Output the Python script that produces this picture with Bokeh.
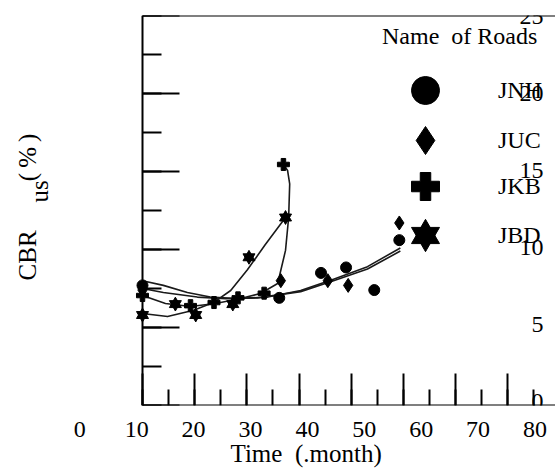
import numpy as np
from bokeh.plotting import figure
from bokeh.models import (LinearAxis, Range1d, FixedTicker, SingleIntervalTicker,
                          Legend, LegendItem)
from bokeh.core.properties import value
from bokeh.embed import file_html
from bokeh.resources import INLINE

# ---- data ----
jnh_x = [10, 36.2, 44.2, 49.0, 54.4, 59.2]
jnh_y = [7.7, 6.9, 8.5, 8.85, 7.4, 10.6]
juc_x = [10, 36.5, 45.5, 49.4, 59.2]
juc_y = [7.4, 8.0, 8.0, 7.7, 11.7]
jkb_x = [10, 19.2, 23.7, 28.3, 33.3, 37.0]
jkb_y = [7.05, 6.4, 6.6, 6.9, 7.2, 15.45]
jbd_x = [10, 16.3, 20.2, 27.3, 30.4, 37.4]
jbd_y = [5.8, 6.5, 5.8, 6.5, 9.5, 12.05]

# trend curves
jnh_cx = [10, 14, 18.6, 23, 28, 34, 40.3, 46.6, 53.1, 59.4]
jnh_cy = [8.0, 7.7, 7.24, 6.95, 6.85, 6.95, 7.37, 8.1, 8.9, 10.1]
juc_cx = [10, 14, 20.5, 26, 32, 40.3, 46.6, 53.1, 59.4]
juc_cy = [7.5, 7.24, 6.95, 6.85, 6.9, 7.3, 8.0, 8.75, 9.9]
jkb_cx = [10, 14.4, 19.2, 24.0, 28.8, 32.6, 35.9, 37.4, 38.0, 38.2, 37.8, 37.0]
jkb_cy = [7.05, 6.54, 6.35, 6.54, 6.86, 7.18, 7.82, 9.94, 12.05, 14.2, 15.06, 15.45]
jbd_cx = [10, 14.8, 19.8, 23.6, 26.9, 30.1, 33.5, 37.4]
jbd_cy = [5.9, 5.7, 6.1, 6.6, 7.37, 8.7, 10.3, 12.05]

x_tick_labels = [0, 10, 20, 30, 40, 50, 60, 70, 80]
y_tick_labels = [0, 5, 10, 15, 20, 25]

# y-axis title pieces (text) and where they sit
ytitle_text = ["CBR", "(\u2009%\u2009)", "us"]
ytitle_x = [-12.0, -12.0, -9.7]
ytitle_y = [9.62, 15.9, 13.72]

FONT = "Liberation Serif"
FS = "24px"
INK = "black"

X0, X1 = -17.2, 89.12

p = figure(width=555, height=474, output_backend="svg", toolbar_location=None,
           x_range=Range1d(X0, X1), y_range=Range1d(0, 25),
           x_axis_location=None, y_axis_location=None,
           min_border_left=0, min_border_right=0, min_border_top=15,
           min_border_bottom=69, outline_line_color=None)
p.xgrid.visible = False
p.ygrid.visible = False
p.extra_x_ranges = {"lab": Range1d(-13.94, 83.6)}
p.extra_y_ranges = {"ylab": Range1d(-0.26, 25.05)}


def style(ax, line=True):
    ax.axis_line_color = "black" if line else None
    ax.axis_line_width = 2
    ax.major_tick_line_width = 2
    ax.minor_tick_line_width = 2
    ax.major_label_text_font = FONT
    ax.major_label_text_font_size = FS
    ax.major_label_text_color = INK
    ax.axis_label_text_font = FONT
    ax.axis_label_text_font_size = FS
    ax.axis_label_text_font_style = "normal"
    ax.axis_label_text_color = INK
    ax.major_tick_out = 0
    ax.minor_tick_out = 0
    if not line:
        ax.major_tick_line_color = None
        ax.minor_tick_line_color = None


# left axis at x = 10 with inward ticks
ly = LinearAxis(fixed_location=10, ticker=SingleIntervalTicker(interval=5, num_minor_ticks=2))
style(ly)
ly.major_tick_in = 37
ly.minor_tick_in = 19
ly.major_label_text_color = None
p.add_layout(ly, "left")

# bottom axis line with inward ticks
bx = LinearAxis(fixed_location=0, bounds=(10, X1),
                ticker=SingleIntervalTicker(interval=10, num_minor_ticks=2))
style(bx)
bx.major_tick_in = 32
bx.minor_tick_in = 16
bx.major_label_text_color = None
p.add_layout(bx, "below")

# top line
tx = LinearAxis(fixed_location=25, bounds=(10, X1), ticker=FixedTicker(ticks=[]))
style(tx)
tx.major_tick_line_color = None
tx.minor_tick_line_color = None
tx.major_label_text_color = None
p.add_layout(tx, "above")

# x tick labels and title
lx = LinearAxis(x_range_name="lab", ticker=FixedTicker(ticks=x_tick_labels),
                axis_label="\u00a0" * 9 + "Time\u00a0 (.month)")
style(lx, line=False)
lx.axis_label_text_font_size = "25px"
lx.major_label_standoff = 16
lx.axis_label_standoff = 0
p.add_layout(lx, "below")

# y tick labels drawn at the right side
ry = LinearAxis(y_range_name="ylab", fixed_location=87.2, ticker=FixedTicker(ticks=y_tick_labels))
style(ry, line=False)
ry.major_label_standoff = 2
p.add_layout(ry, "left")

# y title
p.text(x=ytitle_x, y=ytitle_y, text=ytitle_text, angle=np.pi / 2,
       text_align="center", text_baseline="alphabetic",
       text_font=value(FONT), text_font_size=value("25px"), text_color=INK)

# trend curves
for cx, cy in [(jnh_cx, jnh_cy), (juc_cx, juc_cy), (jkb_cx, jkb_cy), (jbd_cx, jbd_cy)]:
    p.line(cx, cy, line_width=1.6, color="#1a1a1a", line_join="round")

r_jnh = p.scatter(jnh_x, jnh_y, marker="circle", size=11, color="black")
r_juc = p.scatter(juc_x, juc_y, marker="diamond", size=14, color="black")
r_jkb = p.scatter(jkb_x, jkb_y, marker="plus", size=12, color="black")
r_jbd1 = p.scatter(jbd_x, jbd_y, marker="triangle", size=12, color="black")
r_jbd2 = p.scatter(jbd_x, jbd_y, marker="inverted_triangle", size=12, color="black")

common = dict(glyph_width=86, glyph_height=70, padding=0, margin=0,
              label_standoff=30, background_fill_alpha=0, border_line_color=None,
              label_text_font=FONT, label_text_font_size=FS, label_text_color=INK)

leg1 = Legend(items=[LegendItem(label="JNH", renderers=[r_jnh])],
              title="Name\u00a0 of Roads", title_standoff=5,
              title_text_font=FONT, title_text_font_size=FS, title_text_font_style="normal",
              title_text_color=INK, location=(382, 280), **common)
leg2 = Legend(items=[LegendItem(label="JUC", renderers=[r_juc])], location=(382, 230), **common)
leg3 = Legend(items=[LegendItem(label="JKB", renderers=[r_jkb])], location=(382, 184), **common)
leg4 = Legend(items=[LegendItem(label="JBD", renderers=[r_jbd1, r_jbd2])], location=(382, 135), **common)
for lg in (leg1, leg2, leg3, leg4):
    p.add_layout(lg)

open("out.html", "w").write(file_html(p, INLINE))
